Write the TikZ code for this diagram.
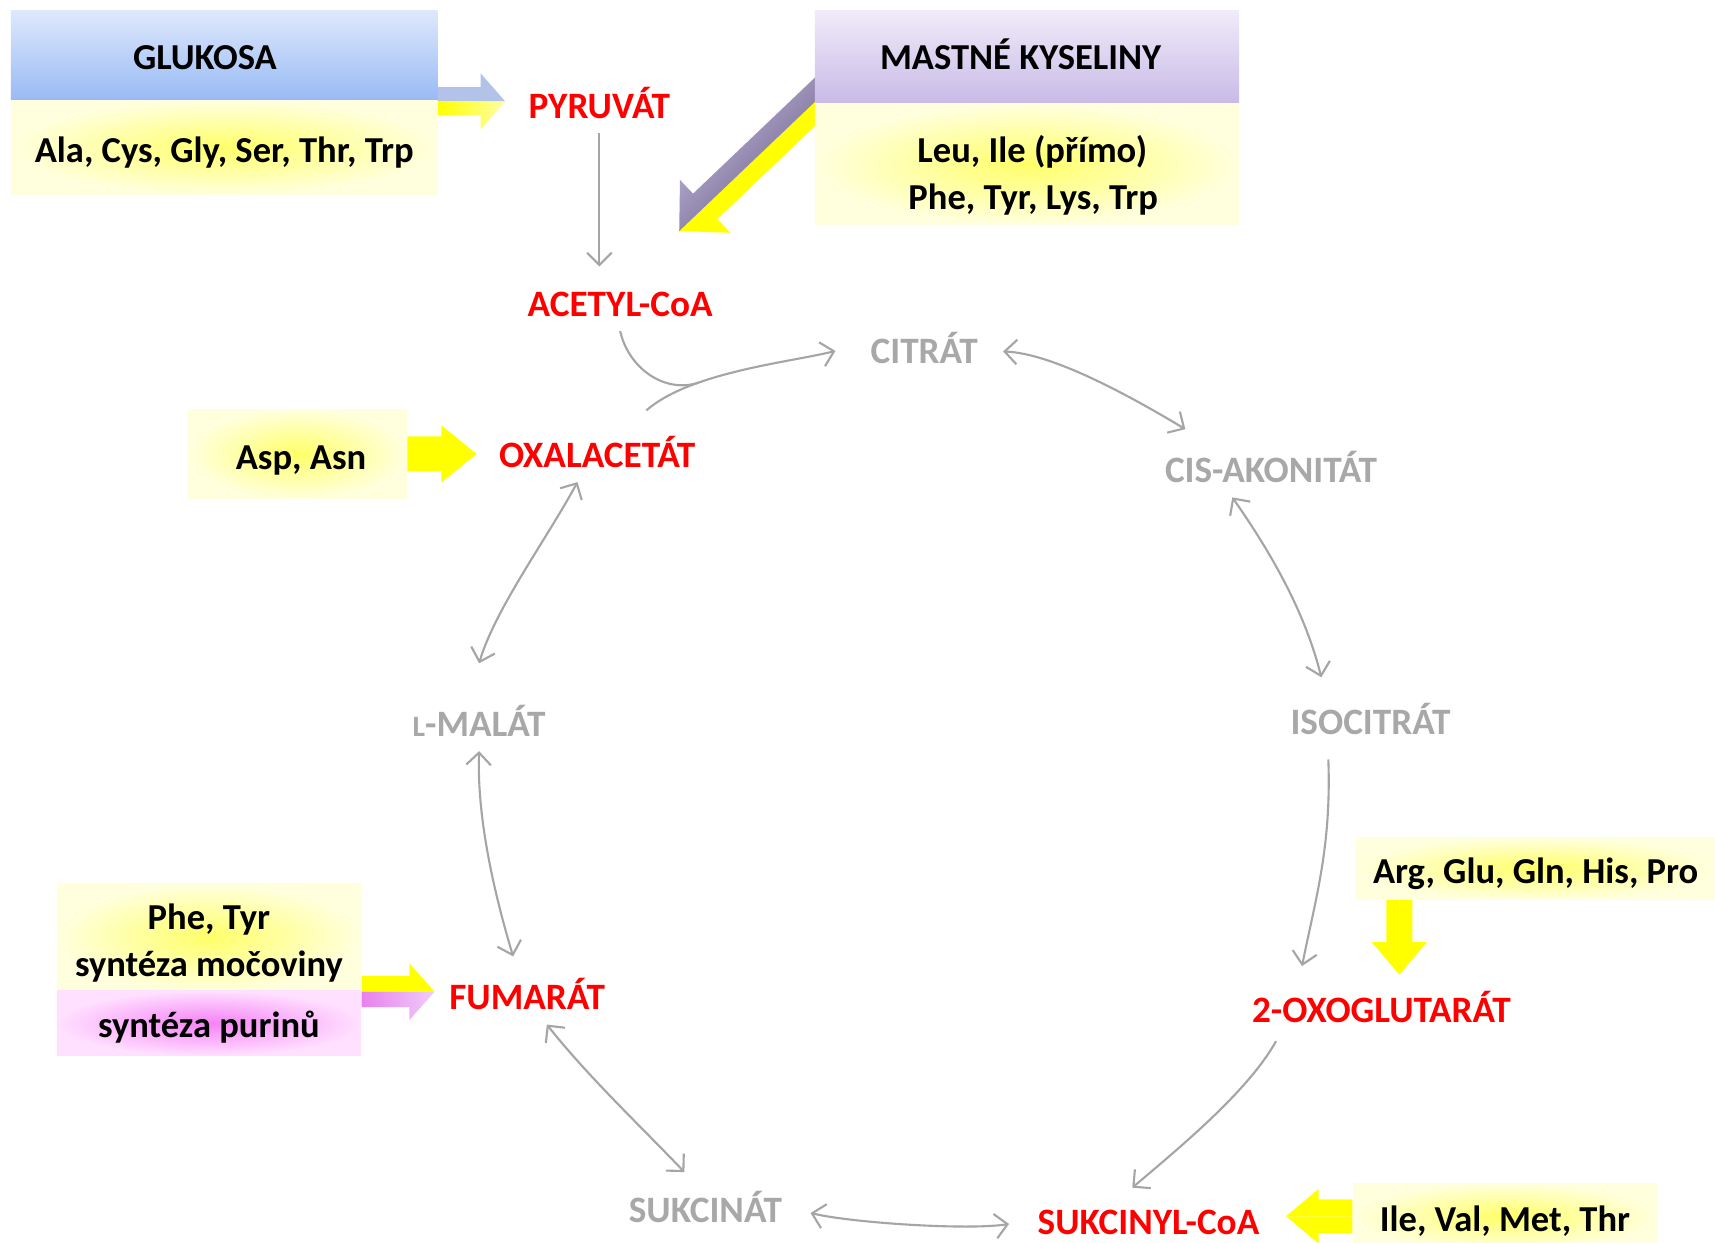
\documentclass[tikz,border=0pt]{standalone}
\usepackage{fontspec}
\setmainfont{Carlito}
\usetikzlibrary{arrows.meta,calc,backgrounds}

\definecolor{metred}{RGB}{255,0,0}
\definecolor{metgray}{RGB}{168,168,168}
\definecolor{lnkgray}{RGB}{165,165,165}
\definecolor{yel}{RGB}{255,255,0}
\definecolor{yelin}{RGB}{255,255,105}
\definecolor{yelout}{RGB}{255,255,222}
\definecolor{blutop}{RGB}{222,232,252}
\definecolor{blubot}{RGB}{152,186,245}
\definecolor{bluarr}{RGB}{178,194,232}
\definecolor{purtop}{RGB}{240,235,250}
\definecolor{purbot}{RGB}{200,186,230}
\definecolor{purlt}{RGB}{200,194,226}
\definecolor{purdk}{RGB}{95,80,125}
\definecolor{pinkin}{RGB}{245,130,245}
\definecolor{pinkout}{RGB}{255,224,255}
\definecolor{pinkarr}{RGB}{232,128,238}
\definecolor{pinklt}{RGB}{240,205,250}

% fat two-coloured arrow: from, to, body half width, head half width, head length, left side, right side
\newcommand{\fatarrow}[7]{%
    \coordinate (fa-h) at ($(#2)!#5!(#1)$);
    \path[#6] (#1) -- ($(#1)!#3!90:(#2)$) -- ($(fa-h)!#3!-90:(#1)$) -- ($(fa-h)!#4!-90:(#1)$) -- (#2) -- cycle;
    \path[#7] (#1) -- ($(#1)!#3!-90:(#2)$) -- ($(fa-h)!#3!90:(#1)$) -- ($(fa-h)!#4!90:(#1)$) -- (#2) -- cycle;
}

\tikzset{
    every node/.style={font=\fontsize{10.4}{13.5}\selectfont\bfseries},
    keymet/.style={font=\fontsize{10.6}{13.5}\selectfont\bfseries, text=metred, text height=7pt, text depth=0pt, inner sep=4pt},
    cycmet/.style={keymet, text=metgray},
    bbox/.style={inner sep=0pt, text depth=2pt, top color=blutop, bottom color=blubot},
    pbox/.style={inner sep=0pt, text depth=2pt, top color=purtop, bottom color=purbot},
    ybox/.style={inner sep=0pt, text depth=2pt, align=center, inner color=yelin, outer color=yelout},
    pinkbox/.style={inner sep=0pt, text depth=2pt, align=center, inner color=pinkin, outer color=pinkout},
    link/.style={draw=lnkgray, line width=0.6pt},
    conn/.style={link, -{Straight Barb[length=3.5pt,width=7pt]}},
    dconn/.style={link, {Straight Barb[length=3.5pt,width=7pt]}-{Straight Barb[length=3.5pt,width=7pt]}}
    }

\begin{document}
\begin{tikzpicture}[x=0.0109375cm, y=-0.0109375cm]
    \useasboundingbox (0,0) rectangle (1568,1136);

    % The cycle
    \node[keymet] (pyruvat) at (548,97) {PYRUVÁT};
    \node[keymet] (acetyl) at (567,278) {ACETYL-CoA};
    \node[cycmet] (citrat) at (845,321) {CITRÁT};
    \node[cycmet] (akonitat) at (1162,430) {CIS-AKONITÁT};
    \node[cycmet] (isocitrat) at (1253,660) {ISOCITRÁT};
    \node[keymet] (oxoglut) at (1263,924) {2-OXOGLUTARÁT};
    \node[keymet] (sukcinylcoa) at (1050,1117) {SUKCINYL-CoA};
    \node[cycmet] (sukcinat) at (645,1106) {SUKCINÁT};
    \node[keymet] (fumarat) at (482,912) {FUMARÁT};
    \node[cycmet] (malat) at (438,662) {{\fontsize{8.4}{8}\selectfont L}-MALÁT};
    \node[keymet] (oxalacetat) at (546,416) {OXALACETÁT};

    % The sources
    \node[bbox, minimum width=121.4pt, minimum height=25.5pt, text height=10pt] (glukosa) at (205,51) {GLUKOSA\hspace*{11pt}};
    \node[ybox, minimum width=121.4pt, minimum height=26.8pt, text height=10.6pt] (glukosaak) at (205,135) {Ala, Cys, Gly, Ser, Thr, Trp};
    \node[pbox, minimum width=120.7pt, minimum height=26.5pt, text height=9.1pt] (mastne) at (939,52.5) {MASTNÉ KYSELINY\hspace*{3.7pt}};
    \node[ybox, minimum width=120.7pt, minimum height=34.2pt, text height=28.1pt] (mastneak) at (939,150) {\hspace*{3pt}Leu, Ile (přímo)\\\hspace*{3.5pt}Phe, Tyr, Lys, Trp};
    \node[ybox, minimum width=62.2pt, minimum height=25.5pt, text height=10.6pt] (aspasn) at (272,415) {\hspace*{2pt}Asp, Asn};
    \node[ybox, minimum width=86.5pt, minimum height=30.5pt, text height=24.3pt] (fumak) at (191,857) {Phe, Tyr\\syntéza močoviny};
    \node[pinkbox, minimum width=86.5pt, minimum height=18.4pt, text height=10.3pt] (purin) at (191,935.5) {syntéza purinů};
    \node[ybox, minimum width=102.1pt, minimum height=17.4pt, text height=10.6pt] (argglu) at (1404,794) {Arg, Glu, Gln, His, Pro};
    \node[ybox, minimum width=86.5pt, minimum height=18.7pt, text height=10.6pt] (ileval) at (1376,1112) {Ile, Val, Met, Thr};

    % thin arrows
    \draw[conn, shorten >=3pt] (pyruvat.south) -- (pyruvat.south |- acetyl.north);
    \draw[conn, shorten >=6pt] ([xshift=14pt,yshift=5pt]oxalacetat.north) .. controls +(40,-35) and +(-60,15) .. ([yshift=1.5pt]citrat.west) coordinate[pos=0.3] (merge);
    \draw[link] (acetyl.south) .. controls +(8,35) and +(-30,10) .. (merge);
    \draw[dconn, shorten <=3pt] (citrat.east) .. controls +(55,2) and +(-50,-30) .. ([xshift=10pt,yshift=4pt]akonitat.north west);
    \draw[dconn] ([xshift=-11pt]akonitat.south) .. controls +(35,50) and +(-15,-60) .. ([xshift=-14pt,yshift=5pt]isocitrat.north);
    \draw[conn] ([xshift=-12pt,yshift=-3pt]isocitrat.south) .. controls +(3,80) and +(12,-60) .. ([xshift=-22.6pt,yshift=5pt]oxoglut.north);
    \draw[conn] ([xshift=-30pt,yshift=-1pt]oxoglut.south) .. controls +(-25,45) and +(45,-38) .. ([xshift=-4.6pt,yshift=2pt]sukcinylcoa.north);
    \draw[dconn, shorten <=4pt, shorten >=4pt] (sukcinat.east) .. controls +(50,12) and +(-50,8) .. (sukcinylcoa.west);
    \draw[dconn] ([xshift=-6pt,yshift=3pt]sukcinat.north) .. controls +(-40,-42) and +(38,48) .. ([xshift=5.6pt]fumarat.south);
    \draw[dconn] ([xshift=-4pt,yshift=4pt]fumarat.north) .. controls +(-18,-60) and +(-2,60) .. (malat.south);
    \draw[dconn] ([yshift=9.6pt]malat.north) .. controls +(15,-50) and +(-30,55) .. ([xshift=-5.6pt]oxalacetat.south);

    % fat arrows
    \coordinate (glu-a) at (glukosa.south east);
    \coordinate (glu-b) at ($(glu-a -| pyruvat.west)+(-8,0)$);
    \coordinate (fa-a) at ($(mastne.south west)+(22,-23)$);
    \coordinate (fa-b) at ($(acetyl.north)+(54,-42)$);
    \coordinate (asp-a) at (aspasn.east);
    \coordinate (asp-b) at ($(asp-a -| oxalacetat.west)+(-7,0)$);
    \coordinate (fum-a) at (fumak.south east);
    \coordinate (fum-b) at (fum-a -| fumarat.west);
    \coordinate (arg-a) at ($(argglu.south west)+(40,0)$);
    \coordinate (arg-b) at ($(arg-a |- oxoglut.north)+(0,-8)$);
    \coordinate (ile-a) at (ileval.west);
    \coordinate (ile-b) at ($(ile-a -| sukcinylcoa.east)+(11,0)$);
    \begin{scope}[on background layer]
        \fill[white] (0,0) rectangle (1568,1136);
        \fatarrow{glu-a}{glu-b}{4pt}{8pt}{7pt}{fill=bluarr}{left color=yel, right color=yel!35!white}
        \fatarrow{fa-a}{fa-b}{5pt}{10.4pt}{10.2pt}{fill=yel}{top color=purlt, bottom color=purdk, shading angle=45}
        \fatarrow{asp-a}{asp-b}{5pt}{8.1pt}{10pt}{fill=yel}{fill=yel}
        \fatarrow{fum-a}{fum-b}{4.4pt}{8.1pt}{7.2pt}{fill=yel}{left color=pinkarr, right color=pinklt}
        \fatarrow{arg-a}{arg-b}{3.7pt}{7.8pt}{9.3pt}{fill=yel}{fill=yel}
        \fatarrow{ile-a}{ile-b}{4.8pt}{7.8pt}{9.3pt}{fill=yel}{fill=yel}
    \end{scope}
\end{tikzpicture}
\end{document}
